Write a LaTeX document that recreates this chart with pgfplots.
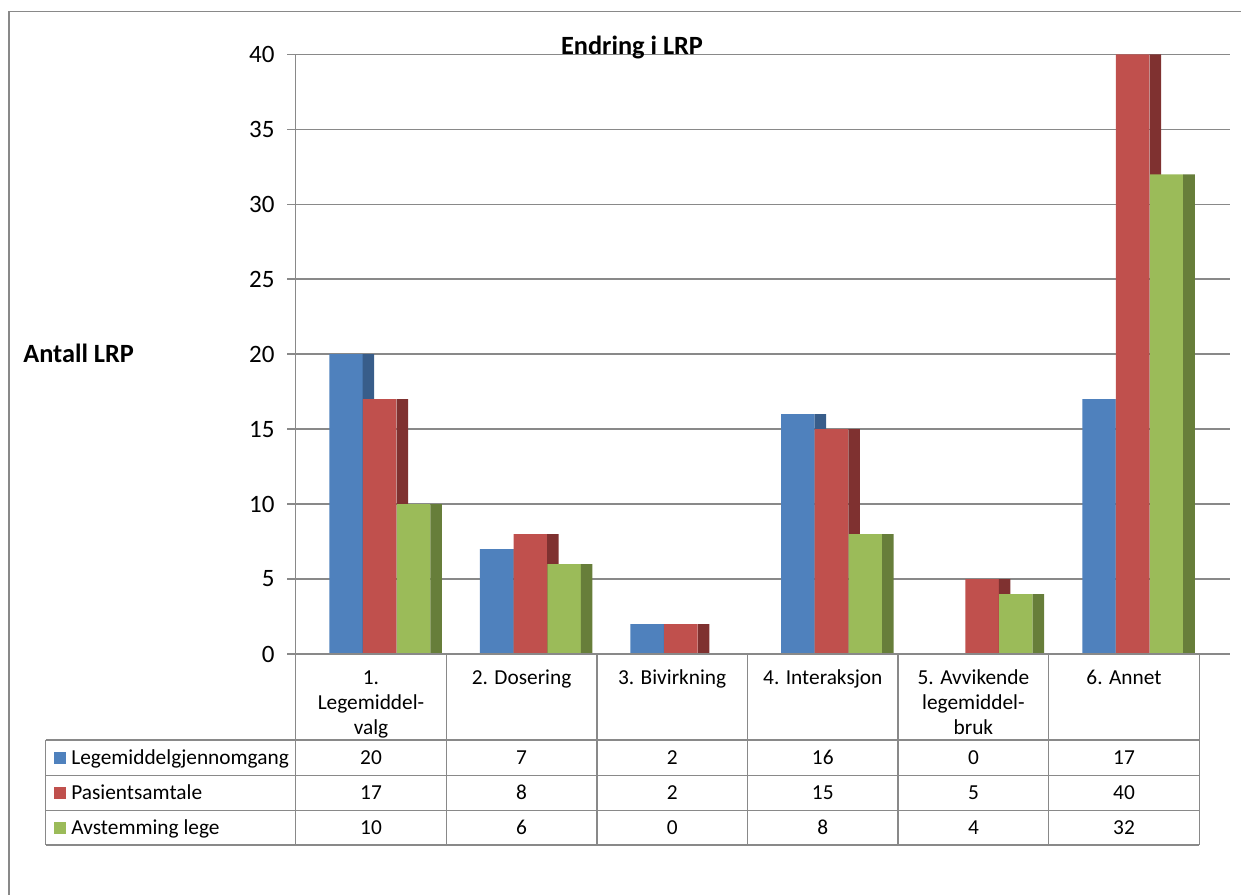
\documentclass[border=0pt]{standalone}
\usepackage{pgfplots}
\usepackage{pgfplotstable}
\pgfplotsset{compat=1.18}
\usepackage{fontspec}
\setmainfont{Carlito}
\definecolor{cA}{HTML}{4F81BD}
\definecolor{cAs}{HTML}{385D8A}
\definecolor{cB}{HTML}{C0504D}
\definecolor{cBs}{HTML}{7F3130}
\definecolor{cC}{HTML}{9BBB59}
\definecolor{cCs}{HTML}{677E3A}
\definecolor{ln}{HTML}{898989}
\pgfplotstableread{
x a b c
0.5 20 17 10
1.5 7 8 6
2.5 2 2 0
3.5 16 15 8
4.5 0 5 4
5.5 17 40 32
}\data
\newcommand\tf{\fontsize{12.8pt}{15pt}\selectfont}
\begin{document}
\begin{tikzpicture}[x=0.6pt,y=-0.6pt]
\useasboundingbox (0,0) rectangle (1241,895);
\coordinate (O) at (295,654);
\begin{axis}[
  at={(O)}, anchor=south west,
  scale only axis, width=561pt, height=359.8pt,
  xmin=0, xmax=6.2085, ymin=0, ymax=40,
  xtick=\empty, ytick={0,5,...,40},
  ytick pos=left, tick align=outside,
  major tick length=4.8pt,
  tick style={color=ln, line width=0.9pt},
  axis line style={draw=none},
  ymajorgrids, grid style={color=ln, line width=0.9pt},
  /pgf/number format/assume math mode=true,
  yticklabel style={font=\fontsize{15pt}{18pt}\selectfont, xshift=-4pt},
  clip=false,
]
\addplot[ybar, bar width=0.2224, bar shift=-0.1613, fill=cA, draw=none] table[x=x,y=a]{\data};
\addplot[ybar, bar width=0.0764, bar shift=-0.0120, fill=cAs, draw=none] table[x=x,y=a]{\data};
\addplot[ybar, bar width=0.2224, bar shift=0.0624, fill=cB, draw=none] table[x=x,y=b]{\data};
\addplot[ybar, bar width=0.0764, bar shift=0.2128, fill=cBs, draw=none] table[x=x,y=b]{\data};
\addplot[ybar, bar width=0.2224, bar shift=0.2869, fill=cC, draw=none] table[x=x,y=c]{\data};
\addplot[ybar, bar width=0.0764, bar shift=0.4363, fill=cCs, draw=none] table[x=x,y=c]{\data};
\end{axis}
% frame
\draw[ln, line width=0.9pt] (9,900) -- (9,11.5) -- (1250,11.5);
% y axis line and table
\begin{scope}[ln, line width=0.9pt]
\draw (295.5,54) -- (295.5,845);
\draw (295,654) -- (1230,654);
\foreach \yy in {740,775.5,810.5,845} \draw (45.7,\yy) -- (1199.3,\yy);
\draw (45.7,740) -- (45.7,845);
\foreach \xx in {446.3,596.9,747.5,898.1,1048.7,1199.3} \draw (\xx,654) -- (\xx,845);
\end{scope}
% titles
\node[anchor=base, inner sep=0pt, font=\fontsize{15.8pt}{18pt}\selectfont\bfseries] at (632,54) {Endring i LRP};
\node[anchor=base west, inner sep=0pt, font=\fontsize{15.8pt}{18pt}\selectfont\bfseries] at (23,362) {Antall LRP};
% header labels
\begin{scope}[every node/.style={anchor=base, inner sep=0pt, font=\tf}]
\node at (371,684) {1.};
\node at (371,709) {Legemiddel-};
\node at (371,734) {valg};
\node at (521.6,684) {2. Dosering};
\node at (672.2,684) {3. Bivirkning};
\node at (822.8,684) {4. Interaksjon};
\node at (973.4,684) {5. Avvikende};
\node at (973.4,709) {legemiddel-};
\node at (973.4,734) {bruk};
\node at (1124,684) {6. Annet};
% legend labels
\fill[cA] (54,752) rectangle (66,764);
\fill[cB] (54,787) rectangle (66,799);
\fill[cC] (54,822) rectangle (66,834);
\node[anchor=base west] at (71,764) {Legemiddelgjennomgang};
\node[anchor=base west] at (71,799) {Pasientsamtale};
\node[anchor=base west] at (71,834) {Avstemming lege};
% values
\foreach \v [count=\i from 0] in {20,7,2,16,0,17} \node at ({371+150.6*\i},764) {\v};
\foreach \v [count=\i from 0] in {17,8,2,15,5,40} \node at ({371+150.6*\i},799) {\v};
\foreach \v [count=\i from 0] in {10,6,0,8,4,32} \node at ({371+150.6*\i},834) {\v};
\end{scope}
\end{tikzpicture}
\end{document}
